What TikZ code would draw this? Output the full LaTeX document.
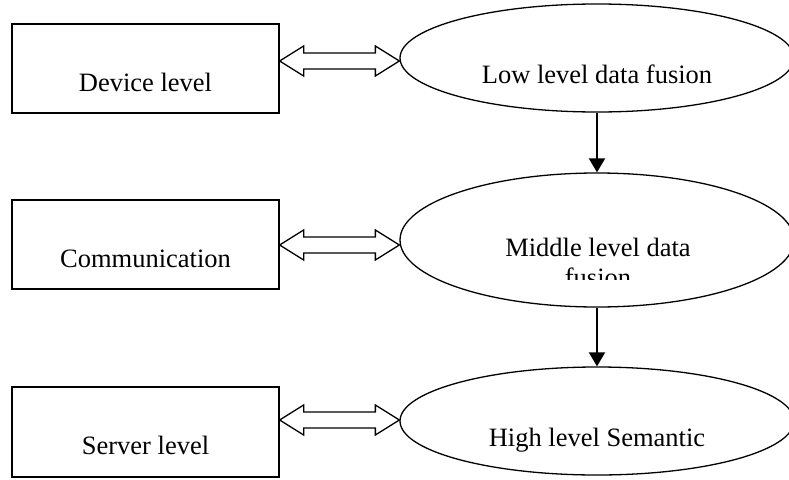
\documentclass[tikz,border=0pt]{standalone}
\usepackage{fontspec}
\setmainfont{Liberation Serif}
\usepackage{tikz}
\usetikzlibrary{arrows.meta,shapes.geometric,calc}
\tikzset{levelbox/.style={draw,line width=1.3pt,minimum width=267pt,minimum height=89pt,inner sep=0pt,
    text height=45pt,text depth=0pt,font=\fontsize{26.5}{30}\selectfont},
  fusionnode/.style={draw,ellipse,line width=1.3pt,minimum width=394pt,inner sep=0pt,
    text height=50pt,text depth=0pt,font=\fontsize{26.5}{30}\selectfont},
  hollow/.style={draw,line width=1.3pt,line join=miter},
  down/.style={-{Triangle[length=14pt,width=16pt]},line width=2pt}}
\newcommand{\hollowarrow}[2]{%
  \draw[hollow] (#1) -- ++(24,-15) -- ++(0,7) -- ($(#2)+(-24,-8)$) -- ++(0,-7) -- (#2)
    -- ++(-24,15) -- ++(0,-7) -- ($(#1)+(24,8)$) -- ++(0,7) -- cycle;}

\begin{document}
\begin{tikzpicture}[x=1pt,y=-1pt]
\useasboundingbox (0,0) rectangle (789,479);
\node[levelbox] (dev) at (145.5,68.5) {Device level};
\node[levelbox] (comm) at (145.5,244.5) {Communication};
\node[levelbox,minimum height=90pt] (srv) at (145.5,432) {Server level};
\node[fusionnode,minimum height=108pt] (low) at (597,58) {Low level data fusion};
\node[fusionnode,minimum height=134pt] (mid) at (597,240) {};
\node[fusionnode,minimum height=108pt] (high) at (597,421) {High level Semantic};
% second line of the middle text is cut off
\begin{scope}
\clip (400,180) rectangle (789,279);
\node[anchor=base,align=center,font=\fontsize{26.5}{30}\selectfont] (midtext) at (598,286) {Middle level data\\fusion};
\end{scope}
\foreach \a/\b/\dy in {dev/low/-7.5,comm/mid/0.5,srv/high/-12}{
  \coordinate (s) at ($(\a.east)+(0,\dy)$);
  \coordinate (e) at (\b.west |- s);
  \hollowarrow{s}{e}
}
\draw[down] (low.south) -- (mid.north);
\draw[down] (mid.south) -- (high.north);
\end{tikzpicture}
\end{document}
